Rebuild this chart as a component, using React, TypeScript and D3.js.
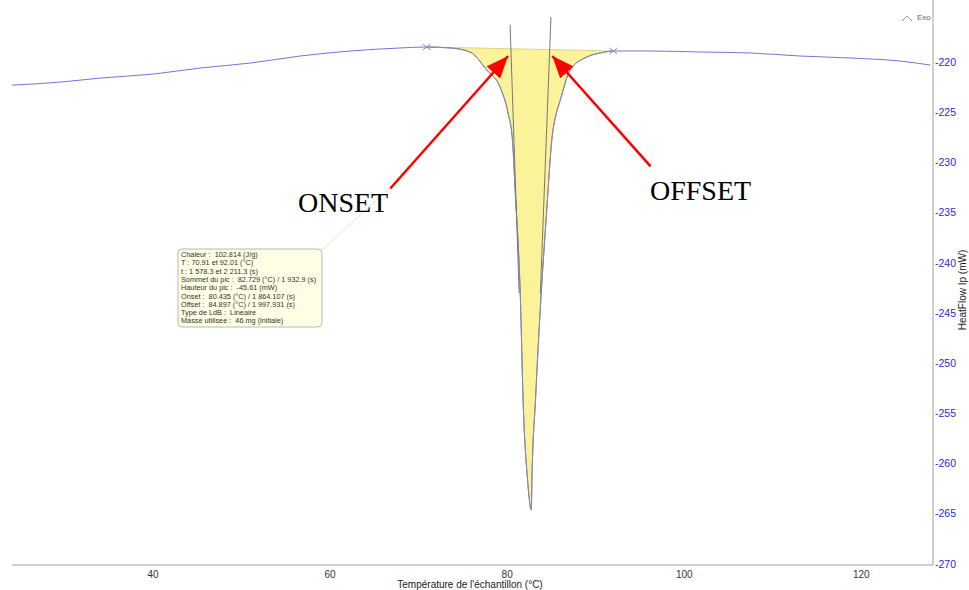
import React from 'react';
import * as d3 from 'd3';

// DSC curve (sample temperature in °C, heat flow in mW)
const temps = [24.07, 29.5, 34.0, 40.0, 45.3, 51.0, 56.6, 62.3, 67.9, 70.91, 73.6, 75.8, 77.7, 79.2, 80.1, 80.6, 80.9, 81.5, 81.8, 82.3, 82.73,
    82.8, 83.2, 83.8, 84.4, 85.1, 85.5, 86.0, 87.1, 89.0, 90.5, 92.01, 96.2, 101.8, 107.5, 113.1, 118.8, 124.4, 127.8];
const heatFlow = [-222.3, -222.0, -221.6, -221.2, -220.6, -220.1, -219.4, -218.9, -218.6, -218.5, -218.6, -219.0, -220.8, -222.5, -225.1, -227.8, -232.7, -243.7, -253.7, -261.6, -264.6,
    -261.6, -253.7, -243.7, -235.7, -227.3, -225.3, -223.8, -220.8, -219.5, -219.1, -218.9, -218.9, -219.0, -219.1, -219.4, -219.6, -219.9, -220.3];

// peak limits and linear baseline
const peakLimits = [70.91, 92.01];
const baselineValues = [-218.5, -218.9];

// tangent lines (onset / offset)
const onsetTangent = [[80.33, -216.3], [81.35, -243.0]];
const offsetTangent = [[84.95, -215.5], [83.75, -243.0]];

const xTicks = [40, 60, 80, 100, 120];
const yTicks = [-220, -225, -230, -235, -240, -245, -250, -255, -260, -265, -270];

const infoLines = [
    "Chaleur :  102.814 (J/g)",
    "T : 70.91 et 92.01 (°C)",
    "t : 1 578.3 et 2 211.3 (s)",
    "Sommet du pic :  82.729 (°C) / 1 932.9 (s)",
    "Hauteur du pic :  -45.61 (mW)",
    "Onset :  80.435 (°C) / 1 864.107 (s)",
    "Offset :  84.897 (°C) / 1 997.931 (s)",
    "Type de LdB :  Lineaire",
    "Masse utilisee :  46 mg (initiale)",
];

// arrows: [tail, tip] in data units
const onsetArrow = [[66.8, -232.6], [80.1, -219.4]];
const offsetArrow = [[96.2, -230.4], [85.1, -219.4]];

const W = 969, H = 590;

export default function App() {
    const x = d3.scaleLinear().domain([24.07, 128.1]).range([12, 933]);
    const y = d3.scaleLinear().domain([-213.82, -270]).range([0, 564]);

    const pts = temps.map((t, i) => ({t, v: heatFlow[i]}));
    const baseAt = (t: number) =>
        baselineValues[0] + (t - peakLimits[0]) / (peakLimits[1] - peakLimits[0]) * (baselineValues[1] - baselineValues[0]);
    const peakPts = pts.filter(p => p.t >= peakLimits[0] && p.t <= peakLimits[1]);

    const line = d3.line<any>().x(d => x(d.t)).y(d => y(d.v)).curve(d3.curveMonotoneX);
    const area = d3.area<any>().x(d => x(d.t)).y0(d => y(baseAt(d.t))).y1(d => y(d.v)).curve(d3.curveMonotoneX);

    const font = "'Liberation Sans', Arial, sans-serif";
    const serif = "'Liberation Serif', 'Times New Roman', serif";

    const arrow = (a: number[][], key: string) => (
        <line key={key} x1={x(a[0][0])} y1={y(a[0][1])} x2={x(a[1][0])} y2={y(a[1][1])}
              stroke="#ff0000" strokeWidth={2.5} markerEnd="url(#head)"/>
    );

    const cross = (t: number, v: number, key: string) => {
        const cx = x(t), cy = y(v);
        return <path key={key} d={`M${cx - 4},${cy - 3}L${cx + 4},${cy + 3}M${cx - 4},${cy + 3}L${cx + 4},${cy - 3}`}
                     stroke="#8a8ac8" strokeWidth={1}/>;
    };

    return (
        <div style={{position: 'absolute', left: 0, top: 0}}>
            <svg width={W} height={H} style={{display: 'block', background: '#fff'}}>
                <defs>
                    <marker id="head" markerUnits="userSpaceOnUse" markerWidth={24} markerHeight={20}
                            refX={22} refY={9} orient="auto">
                        <path d="M0,0 L22,9 L0,18 Z" fill="#ff0000"/>
                    </marker>
                </defs>

                {/* peak area */}
                <path d={area(peakPts) || ''} fill="#faf39a" stroke="none"/>
                <line x1={x(peakLimits[0])} y1={y(baselineValues[0])} x2={x(peakLimits[1])} y2={y(baselineValues[1])}
                      stroke="#dcd48e" strokeWidth={1}/>

                {/* curve */}
                <path d={line(pts) || ''} fill="none" stroke="#7474d8" strokeWidth={1}/>
                <path d={line(peakPts) || ''} fill="none" stroke="#8a8a9a" strokeWidth={1}/>
                {cross(peakLimits[0], baselineValues[0], 'c1')}
                {cross(peakLimits[1], baselineValues[1], 'c2')}

                {/* tangents */}
                {[onsetTangent, offsetTangent].map((tg, i) => (
                    <line key={i} x1={x(tg[0][0])} y1={y(tg[0][1])} x2={x(tg[1][0])} y2={y(tg[1][1])}
                          stroke="#777" strokeWidth={1}/>
                ))}

                {/* axes */}
                <line x1={12} y1={565} x2={933} y2={565} stroke="#a0a0a0" strokeWidth={1}/>
                <line x1={933} y1={0} x2={933} y2={565} stroke="#a0a0a0" strokeWidth={1}/>
                {xTicks.map(t => (
                    <text key={t} x={x(t)} y={578} textAnchor="middle" fontFamily={font} fontSize={10} fill="#333">{t}</text>
                ))}
                {yTicks.map(t => (
                    <text key={t} x={935} y={y(t)} dy="0.35em" fontFamily={font} fontSize={10.5} fill="#2b2bd0">{t}</text>
                ))}
                <text x={470} y={588} textAnchor="middle" fontFamily={font} fontSize={10} fill="#222">
                    Température de l'échantillon (°C)
                </text>
                <text transform={`translate(966,290) rotate(-90)`} textAnchor="middle" fontFamily={font} fontSize={10}
                      fill="#222">HeatFlow Ip (mW)
                </text>

                {/* Exo indicator */}
                <path d="M902,21 L907,16 L912,21" fill="none" stroke="#999" strokeWidth={1}/>
                <text x={917} y={20} fontFamily={font} fontSize={8} fill="#666">Exo</text>

                {/* info box */}
                <line x1={322} y1={250} x2={415} y2={165} stroke="#e4e4e4" strokeWidth={1}/>
                <rect x={178} y={249} width={144} height={78} rx={4} fill="#ffffe6" stroke="#b8b8b8" strokeWidth={1}/>
                {infoLines.map((s, i) => (
                    <text key={i} x={181} y={257 + i * 8.3} fontFamily={font} fontSize={7.3} fill="#333"
                          style={{whiteSpace: 'pre'}}>{s}</text>
                ))}

                {/* annotations */}
                {arrow(onsetArrow, 'a1')}
                {arrow(offsetArrow, 'a2')}
                <text x={298} y={212} fontFamily={serif} fontSize={28} fill="#000">ONSET</text>
                <text x={650} y={200} fontFamily={serif} fontSize={28} fill="#000">OFFSET</text>
            </svg>
        </div>
    );
}
